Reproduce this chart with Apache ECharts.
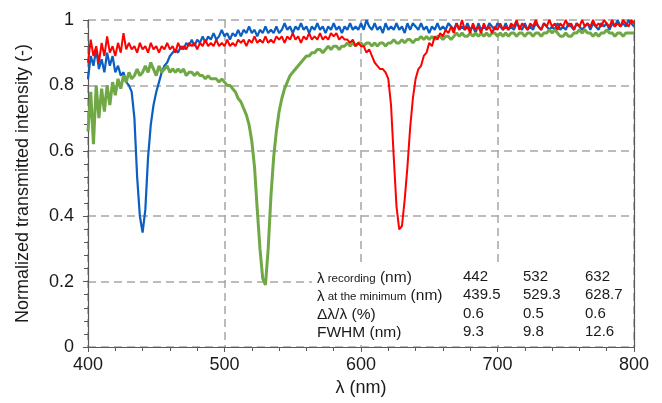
<!DOCTYPE html>
<html>
<head>
<meta charset="utf-8">
<script src="https://cdn.jsdelivr.net/npm/echarts/dist/echarts.min.js"></script>
<style>html,body{margin:0;padding:0;background:#fff;}#c{width:662px;height:403px;}</style>
</head>
<body>
<div id="c"></div>
<script>
// Wavelength (nm)
const wavelengths = [
400,402,404,406,408,410,412,414,416,418,
420,422,424,426,428,430,432,434,436,438,
440,442,444,446,448,450,452,454,456,458,
460,462,464,466,468,470,472,474,476,478,
480,482,484,486,488,490,492,494,496,498,
500,502,504,506,508,510,512,514,516,518,
520,522,524,526,528,530,532,534,536,538,
540,542,544,546,548,550,552,554,556,558,
560,562,564,566,568,570,572,574,576,578,
580,582,584,586,588,590,592,594,596,598,
600,602,604,606,608,610,612,614,616,618,
620,622,624,626,628,630,632,634,636,638,
640,642,644,646,648,650,652,654,656,658,
660,662,664,666,668,670,672,674,676,678,
680,682,684,686,688,690,692,694,696,698,
700,702,704,706,708,710,712,714,716,718,
720,722,724,726,728,730,732,734,736,738,
740,742,744,746,748,750,752,754,756,758,
760,762,764,766,768,770,772,774,776,778,
780,782,784,786,788,790,792,794,796,798,
800];

// Recording at 442 nm (blue)
const blue442 = [
0.82,0.89,0.86,0.91,0.85,0.88,0.84,0.90,0.86,0.89,
0.84,0.86,0.83,0.84,0.81,0.80,0.78,0.70,0.52,0.40,
0.35,0.42,0.58,0.68,0.74,0.78,0.81,0.84,0.86,0.87,
0.89,0.90,0.91,0.90,0.92,0.91,0.93,0.92,0.94,0.92,
0.94,0.93,0.95,0.93,0.95,0.94,0.96,0.94,0.95,0.97,
0.95,0.96,0.94,0.96,0.95,0.97,0.95,0.97,0.96,0.98,
0.96,0.97,0.95,0.97,0.96,0.98,0.96,0.97,0.96,0.98,
0.96,0.97,0.99,0.97,0.98,0.96,0.98,0.97,0.99,0.97,
0.98,0.96,0.98,0.97,0.99,0.97,0.98,0.96,0.98,0.97,
0.99,0.97,0.98,0.96,0.98,0.97,0.99,0.97,0.98,0.97,
0.99,0.97,1.00,0.98,0.97,0.99,0.97,0.98,0.96,0.99,
0.97,0.98,0.97,0.99,0.97,0.98,0.96,0.99,0.97,0.99,
0.98,0.97,0.99,0.97,0.98,0.96,0.98,0.97,0.99,0.97,
0.98,0.97,0.99,0.98,0.97,0.99,0.97,0.98,0.97,0.99,
0.97,0.98,0.96,0.99,0.97,0.98,0.97,0.99,0.98,0.97,
0.99,0.98,0.97,0.99,0.97,0.98,0.97,0.99,0.98,0.97,
0.99,0.97,0.98,0.97,0.99,0.98,0.97,0.99,0.98,0.97,
0.98,0.97,0.99,0.97,0.98,0.97,0.99,0.98,0.97,0.99,
0.98,0.97,0.98,0.99,0.97,0.99,0.98,0.97,0.99,0.98,
0.99,0.97,0.99,0.98,1.00,0.98,0.99,0.98,1.00,0.99,
0.98];

// Recording at 532 nm (green)
const green532 = [
0.66,0.78,0.62,0.80,0.70,0.79,0.72,0.80,0.74,0.81,
0.77,0.82,0.79,0.83,0.81,0.84,0.82,0.83,0.85,0.83,
0.84,0.86,0.84,0.87,0.85,0.83,0.86,0.84,0.85,0.86,
0.84,0.85,0.84,0.85,0.84,0.85,0.83,0.84,0.84,0.83,
0.84,0.83,0.83,0.82,0.83,0.82,0.82,0.82,0.81,0.82,
0.81,0.80,0.80,0.79,0.78,0.76,0.75,0.73,0.71,0.68,
0.63,0.55,0.42,0.30,0.21,0.19,0.30,0.46,0.58,0.66,
0.72,0.76,0.79,0.81,0.83,0.84,0.85,0.86,0.87,0.88,
0.89,0.89,0.90,0.90,0.91,0.91,0.90,0.91,0.92,0.91,
0.92,0.92,0.91,0.92,0.92,0.93,0.92,0.93,0.92,0.93,
0.93,0.92,0.93,0.93,0.92,0.93,0.92,0.93,0.93,0.92,
0.93,0.93,0.94,0.93,0.93,0.94,0.93,0.94,0.94,0.93,
0.94,0.94,0.95,0.94,0.95,0.94,0.95,0.94,0.95,0.95,
0.94,0.95,0.95,0.94,0.95,0.96,0.95,0.96,0.95,0.95,
0.96,0.95,0.96,0.95,0.96,0.95,0.96,0.95,0.96,0.96,
0.95,0.96,0.95,0.96,0.95,0.96,0.96,0.95,0.96,0.96,
0.95,0.96,0.96,0.95,0.96,0.96,0.95,0.96,0.96,0.97,
0.96,0.97,0.96,0.95,0.95,0.96,0.95,0.95,0.96,0.96,
0.97,0.96,0.97,0.96,0.96,0.95,0.96,0.95,0.96,0.96,
0.97,0.96,0.96,0.95,0.96,0.96,0.95,0.96,0.96,0.96,
0.96];

// Recording at 632 nm (red)
const red632 = [
0.87,0.94,0.89,0.92,0.87,0.93,0.89,0.95,0.90,0.92,
0.89,0.93,0.90,0.96,0.91,0.93,0.91,0.92,0.90,0.93,
0.91,0.92,0.90,0.93,0.91,0.92,0.90,0.92,0.91,0.93,
0.91,0.92,0.90,0.93,0.91,0.92,0.91,0.93,0.92,0.93,
0.91,0.93,0.92,0.94,0.92,0.93,0.92,0.94,0.92,0.93,
0.92,0.94,0.92,0.93,0.92,0.94,0.93,0.94,0.92,0.94,
0.93,0.95,0.93,0.94,0.93,0.95,0.93,0.94,0.93,0.95,
0.94,0.95,0.93,0.95,0.94,0.96,0.94,0.95,0.93,0.95,
0.94,0.96,0.94,0.95,0.94,0.96,0.94,0.95,0.94,0.96,
0.95,0.96,0.94,0.95,0.94,0.94,0.93,0.94,0.92,0.93,
0.92,0.92,0.90,0.91,0.89,0.87,0.86,0.85,0.85,0.84,
0.82,0.74,0.58,0.43,0.36,0.37,0.45,0.55,0.67,0.76,
0.82,0.85,0.86,0.89,0.90,0.93,0.92,0.95,0.94,0.96,
0.95,0.97,0.96,0.98,0.96,0.99,0.97,1.00,0.97,0.98,
0.96,0.99,0.97,0.98,0.96,0.99,0.97,0.98,0.96,0.98,
0.97,0.99,0.97,0.98,0.97,0.99,0.98,1.00,0.97,0.99,
0.98,0.97,0.99,0.98,1.00,0.98,0.97,0.99,0.98,1.00,
0.98,0.99,0.97,0.99,0.98,1.00,0.98,0.99,0.97,0.99,
0.98,1.00,0.98,0.99,0.98,1.00,0.98,0.99,0.98,1.00,
0.99,0.98,1.00,0.98,0.99,0.98,1.00,0.99,0.98,1.00,
0.99];

// Inset table
const tableLabels = ['λ| recording| (nm)', 'λ| at the minimum| (nm)', 'Δλ/λ (%)', 'FWHM (nm)'];
const tableRecording = ['442', '532', '632'];
const tableMinimum = ['439.5', '529.3', '628.7'];
const tableRatio = ['0.6', '0.5', '0.6'];
const tableFWHM = ['9.3', '9.8', '12.6'];

const xTicks = [400, 500, 600, 700, 800];
const yTicks = [0, 0.2, 0.4, 0.6, 0.8, 1];

function pairs(vals) { return wavelengths.map((w, i) => [w, vals[i]]); }

const chart = echarts.init(document.getElementById('c'), null, {renderer: 'canvas'});
const FONT = 'Liberation Sans, Arial, sans-serif';
const AXC = '#595959';
const GRIDC = '#a6a6a6';

const rows = [tableRecording, tableMinimum, tableRatio, tableFWHM];
const rowY = [277, 295, 314, 332];
const colX = [463, 523, 585];
const graphics = [{
  type: 'rect', z: 1, silent: true,
  shape: {x: 312, y: 266, width: 319, height: 79},
  style: {fill: '#ffffff'}
}];
tableLabels.forEach((lab, r) => {
  const parts = lab.split('|');
  let text;
  if (parts.length === 3) {
    text = '{a|' + parts[0] + '}{b|' + parts[1] + '}{c|' + parts[2] + '}';
  } else {
    text = '{c|' + parts[0] + '}';
  }
  graphics.push({
    type: 'text', z: 3, silent: true,
    x: 317, y: rowY[r],
    style: {
      text: text, verticalAlign: 'middle', align: 'left', fill: '#1a1a1a',
      rich: {
        a: {fontFamily: FONT, fontSize: 15, lineHeight: 18, verticalAlign: 'bottom', fill: '#1a1a1a'},
        b: {fontFamily: FONT, fontSize: 11.5, lineHeight: 18, verticalAlign: 'bottom', padding: [0,0,1,0], fill: '#1a1a1a'},
        c: {fontFamily: FONT, fontSize: 15.5, lineHeight: 18, verticalAlign: 'bottom', fill: '#1a1a1a'}
      }
    }
  });
  rows[r].forEach((v, c) => {
    graphics.push({
      type: 'text', z: 3, silent: true,
      x: colX[c], y: rowY[r],
      style: {text: v, font: '15px ' + FONT, fill: '#1a1a1a', verticalAlign: 'middle', align: 'left'}
    });
  });
});

chart.setOption({
  animation: false,
  backgroundColor: '#ffffff',
  grid: {left: 88, right: 28, top: 20, bottom: 56, containLabel: false},
  xAxis: {
    type: 'value', min: xTicks[0], max: xTicks[xTicks.length - 1], interval: 100,
    name: 'λ (nm)', nameLocation: 'middle', nameGap: 31,
    nameTextStyle: {fontFamily: FONT, fontSize: 18, color: '#1a1a1a'},
    axisLine: {show: true, onZero: false, lineStyle: {color: AXC, width: 1.2}},
    axisTick: {show: true, length: 5, lineStyle: {color: AXC}},
    minorTick: {show: true, splitNumber: 5, length: 4, lineStyle: {color: AXC}},
    axisLabel: {fontFamily: FONT, fontSize: 18, color: '#1a1a1a', margin: 9},
    splitLine: {show: true, lineStyle: {color: GRIDC, type: [8, 5], width: 1.5}}
  },
  yAxis: [{
    type: 'value', min: yTicks[0], max: yTicks[yTicks.length - 1], interval: 0.2,
    name: 'Normalized transmitted intensity (-)', nameLocation: 'middle', nameGap: 56,
    nameTextStyle: {fontFamily: FONT, fontSize: 18, color: '#1a1a1a'},
    axisLine: {show: true, lineStyle: {color: AXC, width: 1.2}},
    axisTick: {show: true, length: 5, lineStyle: {color: AXC}},
    minorTick: {show: true, splitNumber: 5, length: 4, lineStyle: {color: AXC}},
    axisLabel: {fontFamily: FONT, fontSize: 18, color: '#1a1a1a', margin: 14},
    splitLine: {show: true, lineStyle: {color: GRIDC, type: [8, 5], width: 1.5}}
  }, {
    type: 'value', position: 'right', min: 0, max: 1,
    axisLine: {show: true, lineStyle: {color: AXC, width: 1.2}},
    axisTick: {show: false}, axisLabel: {show: false}, splitLine: {show: false}
  }],
  graphic: graphics,
  series: [
    {name: '442 nm', type: 'line', data: pairs(blue442), showSymbol: false, symbol: 'none',
     lineStyle: {color: '#0a5fc0', width: 2.2}, z: 2},
    {name: '532 nm', type: 'line', data: pairs(green532), showSymbol: false, symbol: 'none',
     lineStyle: {color: '#70a845', width: 3}, z: 3},
    {name: '632 nm', type: 'line', data: pairs(red632), showSymbol: false, symbol: 'none',
     lineStyle: {color: '#ff0000', width: 2}, z: 4}
  ]
});
</script>
</body>
</html>
